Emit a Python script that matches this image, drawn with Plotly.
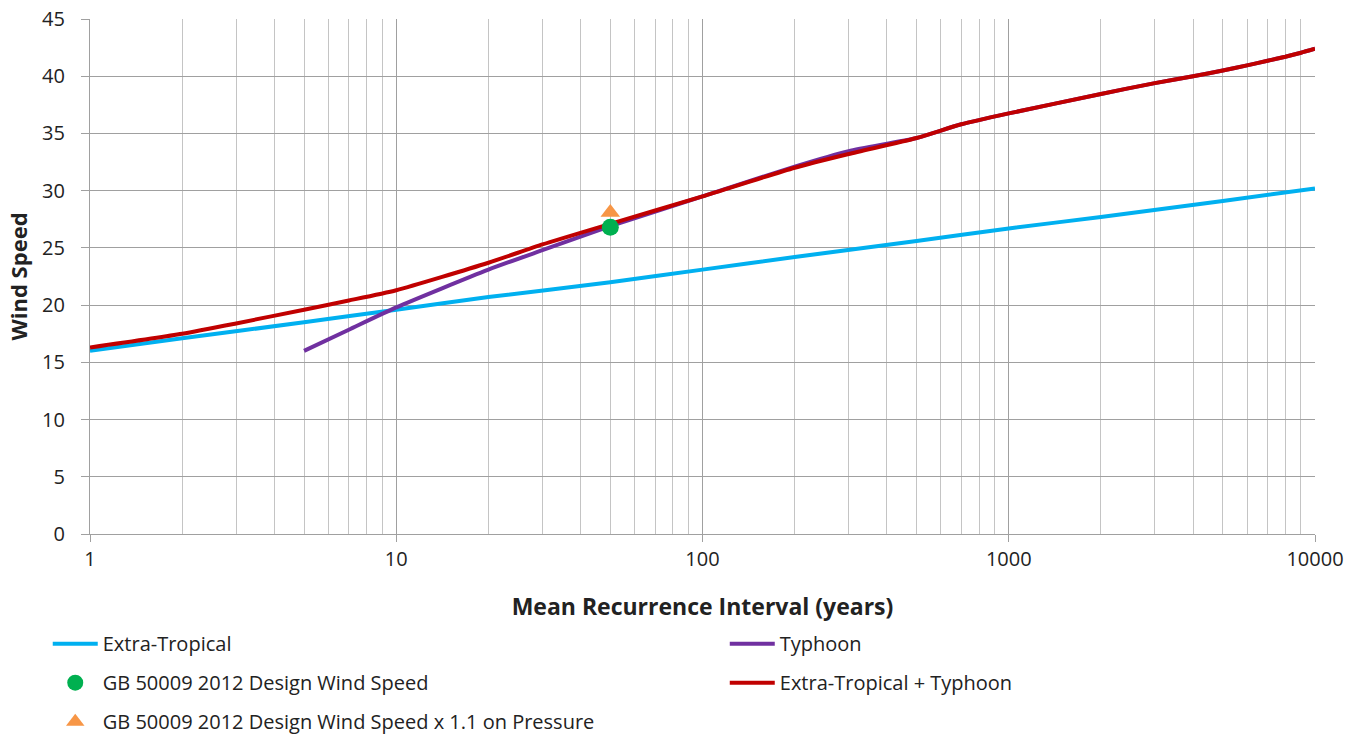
import plotly.graph_objects as go

# ---------------- data ----------------
et_T = [1, 2, 5, 10, 20, 50, 100, 200, 500, 1000, 2000, 5000, 10000]
et_V = [16.0, 17.1, 18.5, 19.6, 20.7, 22.0, 23.1, 24.2, 25.6, 26.7, 27.7, 29.1, 30.2]

ty_T = [5, 7, 10, 20, 30, 50, 100, 200, 300, 500, 700, 1000, 2000, 3000, 4000, 5000, 6000, 7000, 8000, 9000, 10000]
ty_V = [16.0, 17.85, 19.8, 23.1, 24.8, 26.9, 29.5, 32.1, 33.45, 34.6, 35.8, 36.75, 38.45, 39.4, 40.0, 40.5, 40.95, 41.35, 41.7, 42.05, 42.4]

cb_T = [1, 2, 3, 5, 7, 10, 20, 30, 50, 100, 200, 300, 500, 700, 1000, 2000, 3000, 4000, 5000, 6000, 7000, 8000, 9000, 10000]
cb_V = [16.3, 17.5, 18.4, 19.6, 20.4, 21.3, 23.7, 25.3, 27.1, 29.5, 32.0, 33.2, 34.6, 35.8, 36.75, 38.45, 39.4, 40.0, 40.5, 40.95, 41.35, 41.7, 42.05, 42.4]

gb_T = [50]
gb_V = [26.8]
gb11_T = [50]
gb11_V = [28.1]

x_tickvals = [1, 10, 100, 1000, 10000]
x_ticktext = ["1", "10", "100", "1000", "10000"]
y_tickvals = [0, 5, 10, 15, 20, 25, 30, 35, 40, 45]

FONT = "Open Sans"
TXT = "#222222"
fig = go.Figure()

line_kw = dict(width=4, shape="spline", smoothing=0.6)
fig.add_trace(go.Scatter(x=et_T, y=et_V, mode="lines", name="Extra-Tropical",
                         line=dict(color="#00B0F0", **line_kw),
                         legend="legend", legendgroup="a"))
fig.add_trace(go.Scatter(x=ty_T, y=ty_V, mode="lines", name="Typhoon",
                         line=dict(color="#7030A0", **line_kw),
                         legend="legend2", legendgroup="b"))
fig.add_trace(go.Scatter(x=cb_T, y=cb_V, mode="lines", name="Extra-Tropical + Typhoon",
                         line=dict(color="#C00000", **line_kw),
                         legend="legend2", legendgroup="c"))
fig.add_trace(go.Scatter(x=gb_T, y=gb_V, mode="markers", name="GB 50009 2012 Design Wind Speed",
                         marker=dict(color="#00B050", size=17, symbol="circle"),
                         legend="legend", legendgroup="d"))
fig.add_trace(go.Scatter(x=gb11_T, y=gb11_V, mode="markers",
                         name="GB 50009 2012 Design Wind Speed x 1.1 on Pressure",
                         marker=dict(color="#F79646", size=17, symbol="triangle-up"),
                         legend="legend", legendgroup="e"))

legend_common = dict(orientation="v", xref="container", yref="container",
                     xanchor="left", yanchor="top", tracegroupgap=10,
                     font=dict(family=FONT, size=20, color=TXT),
                     bgcolor="rgba(0,0,0,0)", itemwidth=45)

fig.update_layout(
    width=1368, height=738,
    paper_bgcolor="white", plot_bgcolor="white",
    margin=dict(l=90, r=53, t=19, b=204, autoexpand=False),
    font=dict(family=FONT, size=20, color=TXT),
    showlegend=True,
    legend=dict(x=0.0349, y=0.1543, **legend_common),
    legend2=dict(x=0.5298, y=0.1543, **legend_common),
    xaxis=dict(
        type="log", range=[0, 4],
        tickvals=x_tickvals, ticktext=x_ticktext, tickangle=0,
        showgrid=True, gridcolor="#a0a0a0", gridwidth=1.3,
        minor=dict(dtick="D1", showgrid=True, gridcolor="#c4c4c4", gridwidth=1.3, ticks=""),
        showline=True, linecolor="#a0a0a0", linewidth=1.3,
        ticks="outside", ticklen=7, tickcolor="#a0a0a0", tickwidth=1.3,
        ticklabeloverflow="allow",
        tickfont=dict(family=FONT, size=20, color=TXT),
        title=dict(text="<b>Mean Recurrence Interval (years)</b>", standoff=27,
                   font=dict(family=FONT, size=23, color=TXT)),
        zeroline=False, automargin=True,
    ),
    yaxis=dict(
        range=[0, 45], tickvals=y_tickvals,
        showgrid=True, gridcolor="#a0a0a0", gridwidth=1.3,
        showline=True, linecolor="#a0a0a0", linewidth=1.3,
        ticks="outside", ticklen=8, tickcolor="#a0a0a0", tickwidth=1.3,
        ticklabelstandoff=12, ticklabeloverflow="allow",
        tickfont=dict(family=FONT, size=20, color=TXT),
        zeroline=False, automargin=False,
    ),
    annotations=[dict(text="<b>Wind Speed</b>", textangle=-90,
                      xref="paper", yref="paper", x=-0.0588, y=0.5,
                      xanchor="center", yanchor="middle", showarrow=False,
                      font=dict(family=FONT, size=22, color=TXT))],
)

fig.write_html("out.html", config={"displayModeBar": False},
               post_script="document.body.style.margin='0px';document.body.style.overflow='hidden';")
